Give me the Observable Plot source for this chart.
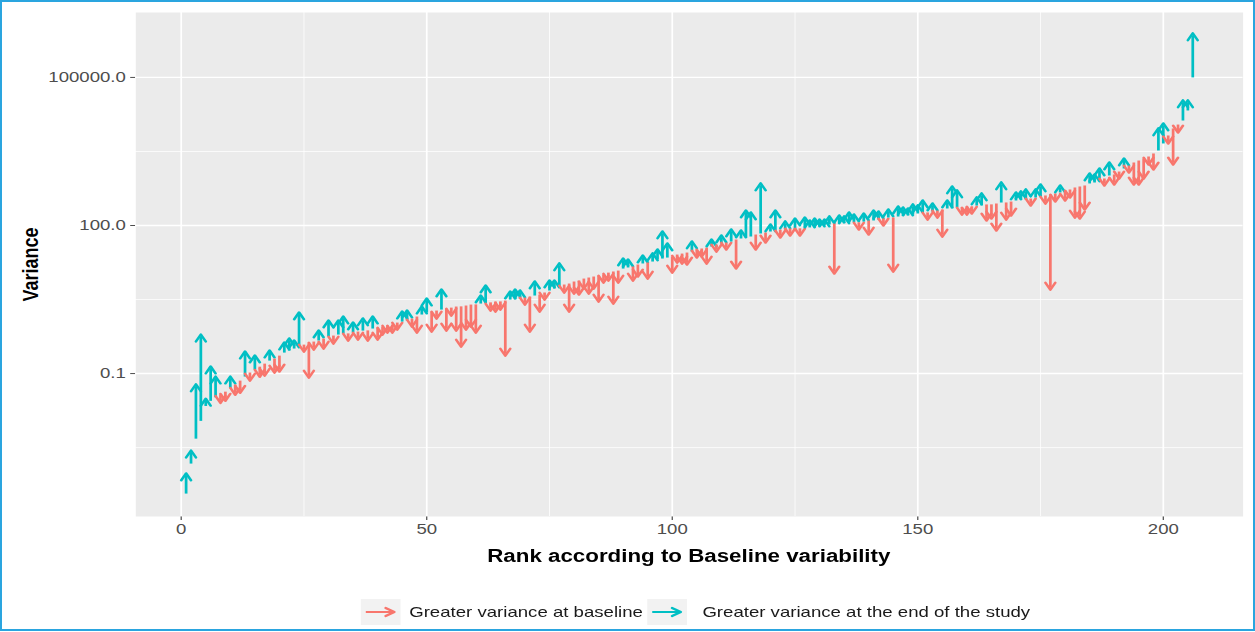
<!DOCTYPE html>
<html>
<head>
<meta charset="utf-8">
<script src="https://cdn.jsdelivr.net/npm/d3@7"></script>
<script src="https://cdn.jsdelivr.net/npm/@observablehq/plot@0.6"></script>
<style>
  html, body { margin: 0; padding: 0; background: #fff; }
  #page { position: relative; width: 1255px; height: 632px; overflow: hidden; }
  #border { position: absolute; left: 0; top: 0; width: 1255px; height: 631px; box-sizing: border-box;
            border: 2px solid #2AA5DF; pointer-events: none; z-index: 2; }
  /* the figure is laid out narrow and widened horizontally */
  #figure { position: absolute; left: 0; top: 0; width: 1012px; height: 632px;
            transform: scaleX(1.24); transform-origin: 0 0;
            font-family: "Liberation Sans", Arial, sans-serif; }
  #xtitle { position: absolute; left: 109px; width: 893px; top: 546px; text-align: center;
            font-weight: bold; font-size: 18px; line-height: 20px; color: #000; }
  #legend { position: absolute; left: 291px; top: 599px; height: 26px; display: flex; align-items: center; }
  .key { width: 32px; height: 26px; background: #F2F2F2; flex: none; }
  .key svg { display: block; }
  .lab { font-size: 15px; line-height: 18px; color: #1A1A1A; white-space: nowrap; }
</style>
</head>
<body>
<div id="page">
  <div id="figure">
    <div id="chart"></div>
    <div id="xtitle"></div>
    <div id="legend"></div>
  </div>
  <div id="border"></div>
</div>
<script>
// Direction of change and its colour
const legendLabels = ["Greater variance at baseline", "Greater variance at the end of the study"];
const changeColors = ["#F8766D", "#00BFC4"];
const xTitle = "Rank according to Baseline variability";
const yTitle = "Variance";
const xTicks = [0, 50, 100, 150, 200];
const yTicks = [0.1, 100, 100000];

// Variance at baseline, in rank order (rank = position + 1)
const baseline = [
  0.00037, 0.0015, 0.0048, 0.011, 0.022, 0.028, 0.033, 0.038, 0.043, 0.050,
  0.060, 0.072, 0.087, 0.105, 0.121, 0.138, 0.159, 0.183, 0.201, 0.231,
  0.266, 0.292, 0.321, 0.352, 0.386, 0.425, 0.445, 0.467, 0.512, 0.562,
  0.589, 0.617, 0.646, 0.652, 0.678, 0.710, 0.743, 0.750, 0.817, 0.855,
  0.895, 0.940, 0.984, 1.08, 1.13, 1.19, 1.30, 1.43, 1.57, 1.72,
  1.80, 1.89, 1.98, 2.07, 2.17, 2.28, 2.30, 2.39, 2.50, 2.52,
  2.62, 2.75, 2.77, 2.88, 2.90, 3.01, 3.16, 3.18, 3.31, 3.47,
  3.63, 3.81, 3.99, 4.39, 4.81, 5.28, 5.79, 6.37, 6.67, 7.33,
  7.67, 8.41, 8.83, 9.25, 9.68, 10.2, 11.1, 11.7, 12.2, 13.4,
  14.1, 14.8, 16.2, 17.0, 17.8, 18.6, 20.5, 21.4, 22.4, 23.5,
  25.8, 27.0, 28.3, 29.7, 32.6, 34.2, 35.8, 37.5, 41.2, 43.2,
  45.2, 47.3, 52.0, 54.5, 57.1, 59.8, 65.6, 68.9, 72.1, 75.5,
  79.1, 83.0, 83.5, 86.9, 87.2, 87.6, 91.0, 91.4, 95.5, 95.9,
  100, 105, 110, 110.5, 111, 115, 115.5, 116, 120, 126,
  126.5, 132, 139, 145, 145.5, 152, 159, 159.5, 167, 175,
  183, 184, 192, 201, 211, 221, 222, 232, 233, 243,
  244, 254, 255, 267, 268, 279, 292, 293, 306, 321,
  337, 338, 352, 369, 387, 406, 425, 446, 467, 512,
  537, 589, 617, 647, 710, 743, 817, 897, 1030, 1080,
  1240, 1430, 1640, 1890, 2070, 2280, 2500, 2880, 3310, 4590,
  6670, 9250, 11100, 13400, 21400, 100000
];

// Variance at the end of the study, same order
const endOfStudy = [
  0.00086, 0.0025, 0.055, 0.56, 0.028, 0.126, 0.079, 0.028, 0.031, 0.079,
  0.041, 0.045, 0.254, 0.079, 0.211, 0.095, 0.100, 0.266, 0.115, 0.121,
  0.386, 0.467, 0.425, 1.57, 0.306, 0.091, 0.337, 0.678, 0.352, 1.08,
  0.445, 1.08, 1.30, 0.512, 0.984, 0.536, 1.19, 0.512, 1.30, 0.536,
  0.678, 0.743, 0.743, 0.855, 1.64, 1.72, 0.984, 0.743, 2.07, 3.01,
  0.780, 1.43, 4.59, 0.817, 1.64, 0.817, 0.386, 0.855, 0.984, 0.743,
  3.47, 5.53, 2.07, 1.98, 2.17, 0.254, 4.18, 4.59, 4.39, 2.75,
  0.780, 6.67, 1.98, 3.47, 6.98, 6.98, 15.5, 4.81, 1.98, 4.59,
  4.39, 5.79, 4.59, 5.79, 3.16, 7.67, 8.41, 2.88, 7.67, 19.5,
  18.6, 8.41, 10.2, 22.4, 9.25, 24.7, 29.7, 68.9, 39.3, 12.2,
  19.5, 18.6, 17.8, 43.2, 24.7, 25.8, 18.6, 47.3, 32.6, 57.1,
  35.8, 75.5, 14.8, 72.1, 183, 167, 35.8, 647, 49.7, 95.5,
  183, 62.7, 110, 68.9, 126, 68.9, 132, 115, 126, 120,
  120, 139, 11.7, 145, 139, 167, 152, 91.0, 159, 72.1,
  183, 175, 110, 192, 12.8, 221, 211, 201, 243, 232,
  292, 145, 254, 159, 65.6, 292, 562, 467, 183, 183,
  192, 337, 406, 139, 152, 86.9, 678, 145, 175, 425,
  446, 489, 279, 489, 617, 306, 5.53, 337, 589, 352,
  406, 159, 152, 232, 1030, 984, 1300, 710, 1720, 743,
  984, 2070, 1300, 743, 743, 984, 1890, 1500, 8430, 10600,
  5050, 1890, 8430, 31100, 31100, 710000
];

const n = baseline.length;
const rows = baseline.map((b, i) => ({
  rank: i + 1,
  baseline: b,
  end: endOfStudy[i],
  change: endOfStudy[i] > b ? legendLabels[1] : legendLabels[0]
}));

// 5% padding on both scales (in log space for the variance axis)
const xPad = 0.05 * (n - 1);
const logs = baseline.concat(endOfStudy).map(Math.log10);
const lo = d3.min(logs), hi = d3.max(logs), yPad = 0.05 * (hi - lo);
const yDomain = [10 ** (lo - yPad), 10 ** (hi + yPad)];

// minor gridlines halfway between the major breaks
const xMinor = xTicks.slice(1).map((t, i) => (t + xTicks[i]) / 2);
const yStep = Math.sqrt(yTicks[1] / yTicks[0]);
const yMinor = [yTicks[0] / yStep, ...yTicks.map(t => t * yStep)]
  .filter(v => v > yDomain[0] && v < yDomain[1]);

const chart = Plot.plot({
  width: 1012,
  height: 546,
  marginLeft: 109,
  marginRight: 10,
  marginTop: 12,
  marginBottom: 30,
  style: {fontFamily: '"Liberation Sans", Arial, sans-serif', fontSize: "15px", color: "#4D4D4D", background: "white"},
  x: {domain: [1 - xPad, n + xPad], ticks: xTicks, tickSize: 4, tickPadding: 3, label: null},
  y: {type: "log", domain: yDomain, ticks: yTicks, tickFormat: d => d.toFixed(1), tickSize: 4, tickPadding: 4, label: null},
  color: {domain: legendLabels, range: changeColors},
  marks: [
    Plot.frame({fill: "#EBEBEB", stroke: "none"}),
    Plot.ruleY(yMinor, {stroke: "white", strokeWidth: 0.7}),
    Plot.ruleX(xMinor, {stroke: "white", strokeWidth: 0.7}),
    Plot.ruleY(yTicks, {stroke: "white", strokeWidth: 1.4}),
    Plot.ruleX(xTicks, {stroke: "white", strokeWidth: 1.4}),
    Plot.link(rows, {
      x1: "rank", x2: "rank", y1: "baseline", y2: "end",
      stroke: "change", strokeWidth: 2.2, markerEnd: "arrow"
    }),
    Plot.text([yTitle], {
      text: d => d, frameAnchor: "left", textAnchor: "middle", dx: -85, rotate: -90,
      fontSize: 18, fontWeight: "bold", fill: "black"
    })
  ]
});
// narrower, more pointed open arrowheads
chart.querySelectorAll("marker path").forEach(p => p.setAttribute("d", "M-3.3,-2.7L1.5,0L-3.3,2.7"));
document.getElementById("chart").append(chart);

document.getElementById("xtitle").textContent = xTitle;

// legend: arrow key + label for each direction
const legend = document.getElementById("legend");
legendLabels.forEach((label, i) => {
  const key = document.createElement("div");
  key.className = "key";
  key.style.marginLeft = i === 0 ? "0px" : "4px";
  key.innerHTML =
    `<svg width="32" height="26">` +
    `<line x1="4" y1="13" x2="27" y2="13" stroke="${changeColors[i]}" stroke-width="2.2"/>` +
    `<polyline points="20,9 27,13 20,17" fill="none" stroke="${changeColors[i]}" stroke-width="2.2" stroke-linecap="round" stroke-linejoin="round"/>` +
    `</svg>`;
  const lab = document.createElement("div");
  lab.className = "lab";
  lab.style.marginLeft = i === 0 ? "7px" : "12px";
  lab.textContent = label;
  legend.append(key, lab);
});
</script>
</body>
</html>
